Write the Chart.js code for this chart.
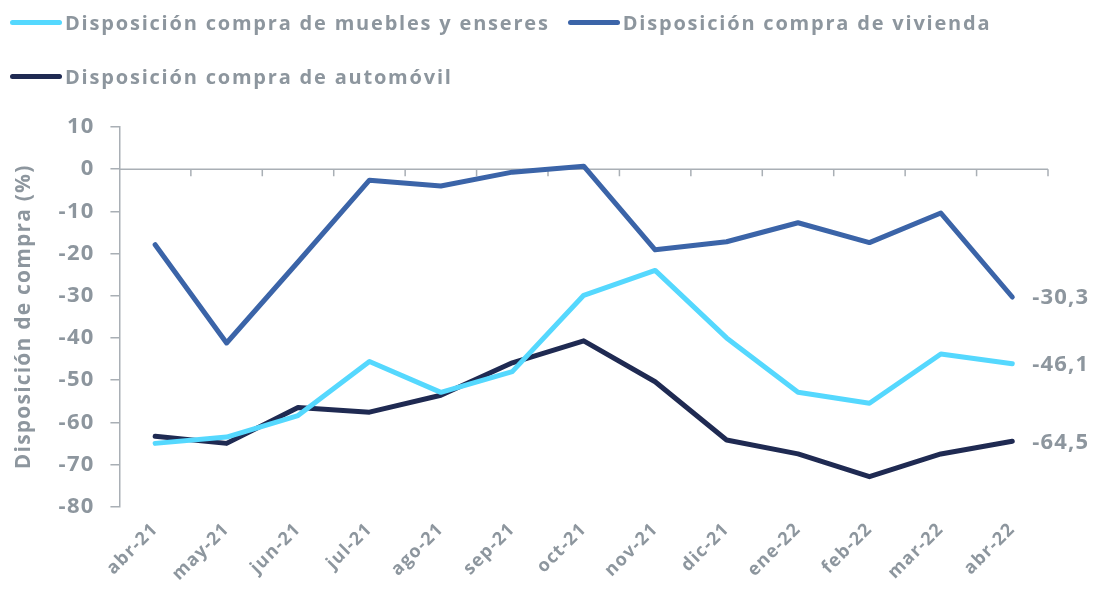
<!DOCTYPE html>
<html lang="es">
<head>
<meta charset="utf-8">
<title>Disposición de compra</title>
<script src="https://cdn.jsdelivr.net/npm/chart.js@4/dist/chart.umd.min.js"></script>
<style>
  html, body { margin: 0; padding: 0; background: #fff; }
  #wrap { position: relative; width: 1096px; height: 592px; }
  #legend {
    position: absolute; left: 10px; top: 4px; width: 1086px;
    font-family: 'Open Sans', Lato, sans-serif; font-weight: 700;
    font-size: 20px; letter-spacing: 1.8px; color: #8d969e;
  }
  .leg-item { display: inline-flex; align-items: center; height: 36px; margin-right: 18px; margin-bottom: 17px; white-space: nowrap; }
  .leg-line { width: 52px; height: 5px; border-radius: 3px; margin-right: 3px; }
  #chart { position: absolute; left: 0; top: 0; }
</style>
</head>
<body>
<div id="wrap">
  <canvas id="chart" width="1096" height="592"></canvas>
  <div id="legend"></div>
</div>
<script>
// --- datos ---
const meses = ['abr-21','may-21','jun-21','jul-21','ago-21','sep-21','oct-21',
               'nov-21','dic-21','ene-22','feb-22','mar-22','abr-22'];

const muebles   = [-65.0, -63.5, -58.4, -45.6, -52.9, -48.0, -29.9, -24.0, -40.0, -52.9, -55.5, -43.8, -46.1];
const vivienda  = [-17.9, -41.2, -22.0, -2.6, -4.0, -0.7, 0.7, -19.1, -17.2, -12.7, -17.4, -10.4, -30.3];
const automovil = [-63.3, -65.0, -56.5, -57.6, -53.6, -45.9, -40.7, -50.4, -64.2, -67.5, -72.9, -67.5, -64.5];

const series = [
  { label: 'Disposición compra de muebles y enseres', data: muebles,   color: '#55d8fe' },
  { label: 'Disposición compra de vivienda',          data: vivienda,  color: '#3b64a8' },
  { label: 'Disposición compra de automóvil',         data: automovil, color: '#1f2a52' }
];

const GRIS = '#8d969e';
const EJE  = '#a9afb5';
const FUENTE = "'Open Sans', Lato, sans-serif";

// leyenda HTML
const leg = document.getElementById('legend');
series.forEach(s => {
  const it = document.createElement('span');
  it.className = 'leg-item';
  it.innerHTML = `<span class="leg-line" style="background:${s.color}"></span>${s.label}`;
  leg.appendChild(it);
});

// espaciado de letras en el canvas (la fuente original es más ancha)
const espaciado = {
  id: 'espaciado',
  beforeInit(chart) { chart.ctx.letterSpacing = '1.2px'; },
  beforeDraw(chart) { chart.ctx.letterSpacing = '1.2px'; }
};

// línea en cero + marcas entre categorías
const lineaCero = {
  id: 'lineaCero',
  beforeDatasetsDraw(chart) {
    const { ctx, chartArea, scales } = chart;
    const y0 = scales.y.getPixelForValue(0);
    ctx.save();
    ctx.strokeStyle = EJE;
    ctx.lineWidth = 1.5;
    ctx.beginPath();
    ctx.moveTo(chartArea.left, y0);
    ctx.lineTo(chartArea.right, y0);
    const n = meses.length;
    for (let i = 1; i <= n; i++) {
      const x = i === n
        ? chartArea.right
        : (scales.x.getPixelForValue(i - 1) + scales.x.getPixelForValue(i)) / 2;
      ctx.moveTo(x, y0);
      ctx.lineTo(x, y0 + 7);
    }
    ctx.stroke();
    ctx.restore();
  }
};

// etiquetas del último valor
const etiquetasFinal = {
  id: 'etiquetasFinal',
  afterDatasetsDraw(chart) {
    const { ctx } = chart;
    ctx.save();
    ctx.font = `700 22px ${FUENTE}`;
    ctx.fillStyle = GRIS;
    ctx.textAlign = 'left';
    ctx.textBaseline = 'middle';
    chart.data.datasets.forEach((ds, i) => {
      const meta = chart.getDatasetMeta(i);
      const pt = meta.data[meta.data.length - 1];
      const v = ds.data[ds.data.length - 1];
      ctx.fillText(v.toFixed(1).replace('.', ','), pt.x + 20, pt.y + 1);
    });
    ctx.restore();
  }
};

new Chart(document.getElementById('chart'), {
  type: 'line',
  data: {
    labels: meses,
    datasets: series.map(s => ({
      label: s.label,
      data: s.data,
      borderColor: s.color,
      backgroundColor: s.color,
      borderWidth: 5,
      pointRadius: 0,
      tension: 0,
      borderCapStyle: 'round',
      borderJoinStyle: 'round'
    }))
  },
  options: {
    responsive: false,
    animation: false,
    layout: { padding: { top: 127, right: 48, left: 11, bottom: 0 } },
    plugins: {
      legend: { display: false },
      tooltip: { enabled: false }
    },
    scales: {
      x: {
        offset: true,
        grid: { display: false, drawTicks: false },
        border: { display: false },
        ticks: {
          maxRotation: 45, minRotation: 45,
          padding: 12,
          font: { family: FUENTE, size: 18, weight: '700' },
          color: GRIS
        }
      },
      y: {
        min: -80, max: 10,
        grid: { drawOnChartArea: false, drawTicks: true, tickLength: 9, color: EJE, lineWidth: 1.5 },
        border: { display: true, color: EJE, width: 1.5 },
        ticks: {
          stepSize: 10,
          padding: 16,
          font: { family: FUENTE, size: 22, weight: '700' },
          color: GRIS
        },
        title: {
          display: true,
          text: 'Disposición de compra (%)',
          font: { family: FUENTE, size: 21, weight: '700' },
          color: GRIS,
          padding: { top: 0, bottom: 10 }
        }
      }
    }
  },
  plugins: [espaciado, lineaCero, etiquetasFinal]
});
</script>
</body>
</html>
